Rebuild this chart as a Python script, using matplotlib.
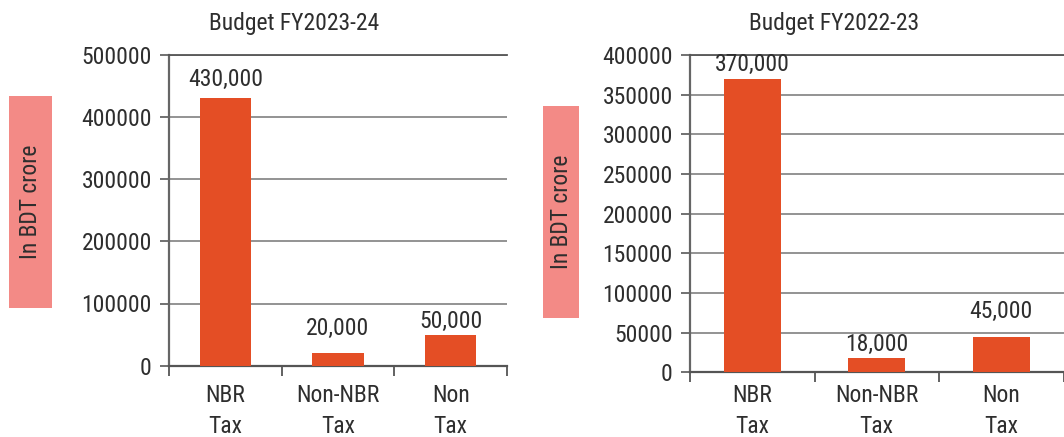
import os
import matplotlib
matplotlib.use("Agg")
import matplotlib.pyplot as plt
from matplotlib import font_manager as fm
from matplotlib.patches import Rectangle
from matplotlib.ticker import FixedLocator

# ---- data -------------------------------------------------------------
categories = ["NBR\nTax", "Non-NBR\nTax", "Non\nTax"]

title_2324 = "Budget FY2023-24"
values_2324 = [430000, 20000, 50000]
yticks_2324 = [0, 100000, 200000, 300000, 400000, 500000]

title_2223 = "Budget FY2022-23"
values_2223 = [370000, 18000, 45000]
yticks_2223 = [0, 50000, 100000, 150000, 200000, 250000, 300000, 350000, 400000]

unit_label = "In BDT crore"

# ---- styling ------------------------------------------------------------
BAR = "#E44E25"
BOX = "#F38A86"
TEXT = "#2e2e2e"
GRID = "#8a8a8a"

# narrow sans faces, most preferred first, each with a size giving ~17 px caps
CANDIDATES = [
    ("liberationsansnarrow-regular.ttf", 17.0),
    ("notosans-condensed.ttf", 17.0),
    ("notosans-condensedregular.ttf", 17.0),
    ("robotocondensed-regular.ttf", 17.0),
    ("dejavusanscondensed.ttf", 16.5),
]


def narrow_font():
    files = {os.path.basename(f.fname).lower(): f.fname for f in fm.fontManager.ttflist}
    for key, size in CANDIDATES:
        if key in files:
            return files[key], size
    return None, 16.0


FONT_FILE, FS = narrow_font()


def fp(size=FS):
    if FONT_FILE:
        return fm.FontProperties(fname=FONT_FILE, size=size)
    return fm.FontProperties(family=["Liberation Sans", "DejaVu Sans"], size=size)


fig = plt.figure(figsize=(10.64, 4.37), dpi=100)
W, H = 1064.0, 437.0


def px_axes(x0, x1, ytop, ybot):
    return fig.add_axes([x0 / W, 1 - ybot / H, (x1 - x0) / W, (ybot - ytop) / H])


def draw_panel(ax, values, yticks, label_gaps, xpad):
    x = list(range(len(categories)))
    ax.bar(x, values, width=0.455, color=BAR, zorder=3)
    ax.set_xlim(-0.5, len(categories) - 0.5)
    ax.set_ylim(yticks[0], yticks[-1])
    ax.set_yticks(yticks)
    ax.set_yticklabels([str(v) for v in yticks])
    ax.yaxis.grid(True, color=GRID, lw=1.3, zorder=0)
    ax.set_axisbelow(True)

    # category boundaries carry the tick marks, centres carry the labels
    ax.xaxis.set_major_locator(FixedLocator([i - 0.5 for i in range(len(categories) + 1)]))
    ax.set_xticklabels([""] * (len(categories) + 1))
    ax.set_xticks(x, minor=True)
    ax.set_xticklabels(categories, minor=True, linespacing=1.45)
    ax.tick_params(axis="x", which="major", length=9.5 * 0.72, width=1.3,
                   color="#555555", direction="out")
    ax.tick_params(axis="x", which="minor", length=0, pad=xpad)
    ax.tick_params(axis="y", length=9.5 * 0.72, width=1.3, color="#666666",
                   pad=5.5)
    for lbl in ax.get_xticklabels(minor=True) + ax.get_yticklabels():
        lbl.set_fontproperties(fp())
        lbl.set_color(TEXT)

    ax.spines["right"].set_visible(False)
    ax.spines["top"].set_color("#555555")
    ax.spines["top"].set_linewidth(1.3)
    ax.spines["left"].set_color("#666666")
    ax.spines["left"].set_linewidth(1.6)
    ax.spines["bottom"].set_color("#555555")
    ax.spines["bottom"].set_linewidth(1.6)

    for xi, v, gap in zip(x, values, label_gaps):
        ax.annotate(f"{v:,}", xy=(xi, v), xytext=(0, gap),
                    textcoords="offset pixels", ha="center", va="baseline",
                    fontproperties=fp(), color=TEXT, zorder=4)


def unit_box(x0, x1, ytop, ybot):
    fig.patches.append(Rectangle((x0 / W, 1 - ybot / H), (x1 - x0) / W,
                                 (ybot - ytop) / H, transform=fig.transFigure,
                                 facecolor=BOX, edgecolor="none"))
    fig.text((x0 + x1) / 2 / W, 1 - (ytop + ybot) / 2 / H, unit_label,
             rotation=90, ha="center", va="center", fontproperties=fp(),
             color=TEXT)


# FY2023-24 panel
ax1 = px_axes(169, 507, 54.7, 365.7)
draw_panel(ax1, values_2324, yticks_2324, [12, 18, 7], 13)
unit_box(9, 51.5, 96, 308)
fig.text(294 / W, 1 - 30 / H, title_2324, ha="center", va="baseline",
         fontproperties=fp(), color=TEXT)

# FY2022-23 panel
ax2 = px_axes(690, 1063.5, 55, 372.3)
draw_panel(ax2, values_2223, yticks_2223, [8, 7, 19], 8.5)
unit_box(543, 579, 106, 318)
fig.text(834 / W, 1 - 30 / H, title_2223, ha="center", va="baseline",
         fontproperties=fp(), color=TEXT)

fig.savefig("out.png", dpi=100, facecolor="white")
